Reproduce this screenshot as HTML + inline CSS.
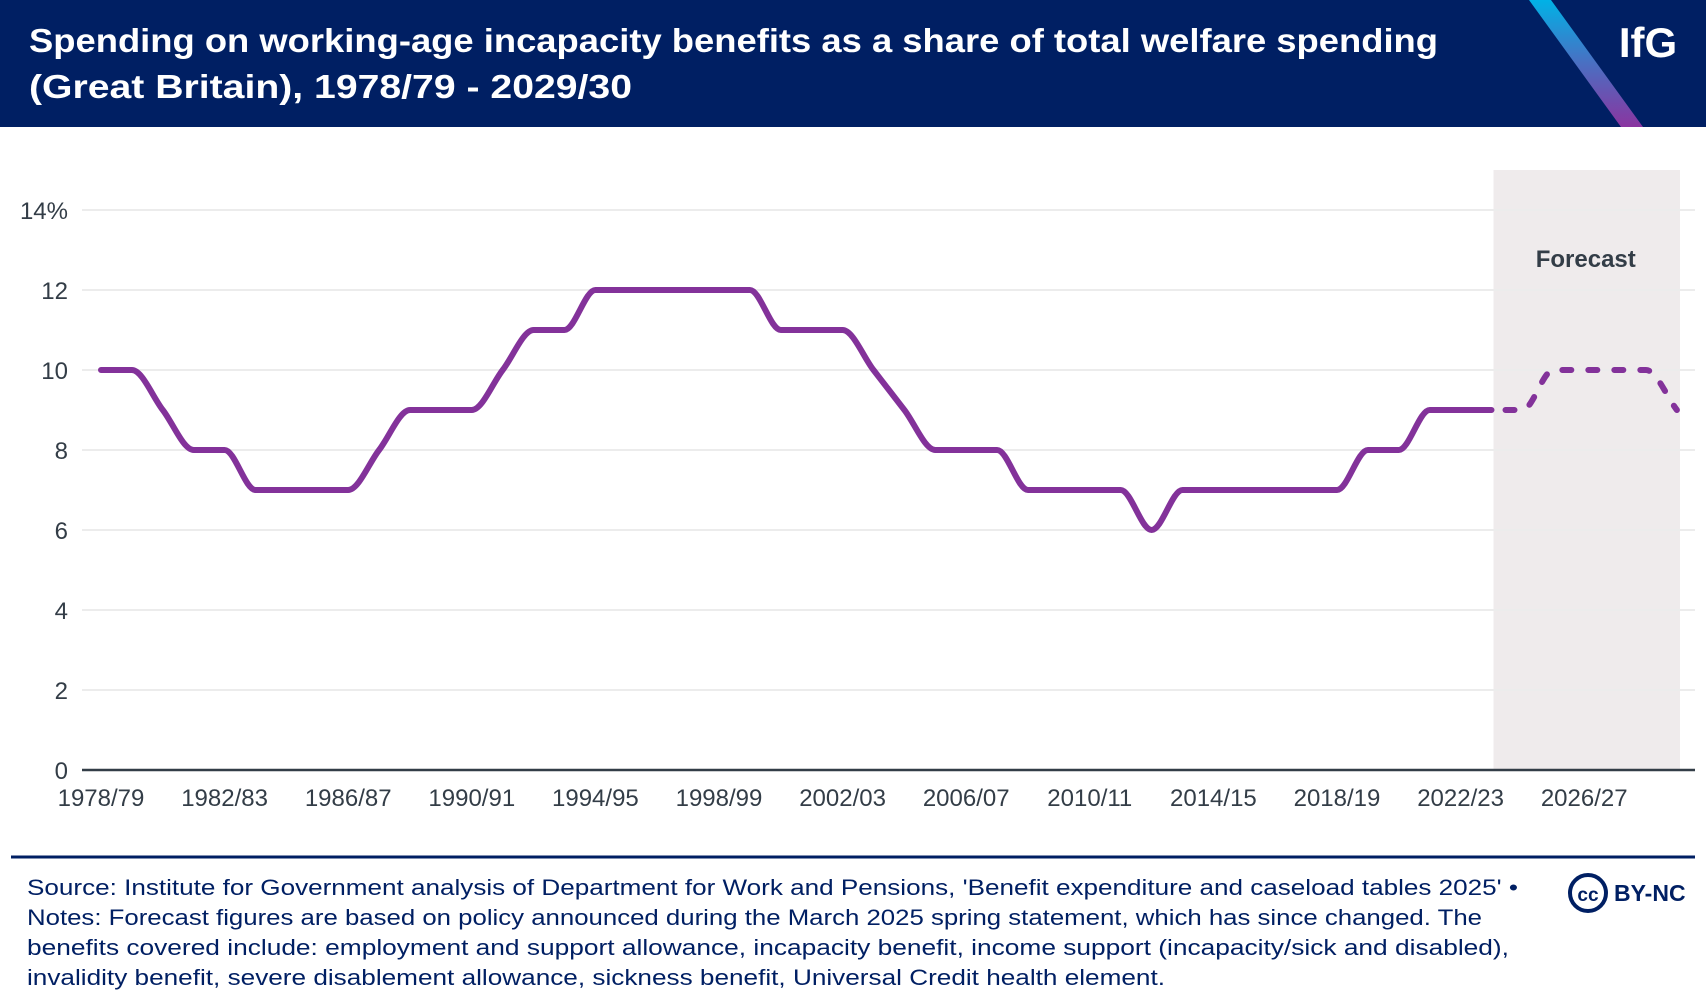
<!DOCTYPE html>
<html><head><meta charset="utf-8"><style>
html,body{margin:0;padding:0;background:#fff;}
svg{display:block;font-family:"Liberation Sans",sans-serif;}
</style></head><body>
<svg width="1706" height="1006" viewBox="0 0 1706 1006">
<defs><linearGradient id="lg" x1="0" y1="0" x2="0" y2="1"><stop offset="0" stop-color="#00b2e6"/><stop offset="0.5" stop-color="#4a6fc2"/><stop offset="1" stop-color="#8a35a0"/></linearGradient></defs>
<rect x="0" y="0" width="1706" height="127" fill="#001f63"/>
<polygon points="1529,0 1551,0 1643,127 1621,127" fill="url(#lg)"/>
<text x="1648" y="57" fill="#fff" font-size="42" font-weight="bold" text-anchor="middle">IfG</text>
<text x="29" y="52" fill="#fff" font-size="33" font-weight="bold" textLength="1409" lengthAdjust="spacingAndGlyphs">Spending on working-age incapacity benefits as a share of total welfare spending</text>
<text x="29" y="98" fill="#fff" font-size="33" font-weight="bold" textLength="603" lengthAdjust="spacingAndGlyphs">(Great Britain), 1978/79 - 2029/30</text>
<g id="plot"></g>
<line x1="11" y1="857" x2="1695" y2="857" stroke="#001f63" stroke-width="3"/>
<g fill="#001f63" font-size="22">
<text x="27" y="895" textLength="1491" lengthAdjust="spacingAndGlyphs">Source: Institute for Government analysis of Department for Work and Pensions, 'Benefit expenditure and caseload tables 2025' •</text>
<text x="27" y="925" textLength="1455" lengthAdjust="spacingAndGlyphs">Notes: Forecast figures are based on policy announced during the March 2025 spring statement, which has since changed. The</text>
<text x="27" y="955" textLength="1482" lengthAdjust="spacingAndGlyphs">benefits covered include: employment and support allowance, incapacity benefit, income support (incapacity/sick and disabled),</text>
<text x="27" y="985" textLength="1138" lengthAdjust="spacingAndGlyphs">invalidity benefit, severe disablement allowance, sickness benefit, Universal Credit health element.</text>
</g>
<g>
<circle cx="1588" cy="893" r="18" fill="none" stroke="#001f63" stroke-width="4"/>
<text x="1588" y="901" fill="#001f63" font-size="19" font-weight="bold" text-anchor="middle">cc</text>
<text x="1614" y="901" fill="#001f63" font-size="23" font-weight="bold">BY-NC</text>
</g>
</svg>
<script>
const years = [];
for (let y = 1978; y <= 2029; y++) years.push(y + "/" + String((y + 1) % 100).padStart(2, "0"));
const values = [10,10,9,8,8,7,7,7,7,8,9,9,9,10,11,11,12,12,12,12,12,12,11,11,11,10,9,8,8,8,7,7,7,7,6,7,7,7,7,7,7,8,8,9,9,9,9,10,10,10,10,9];
const forecastStart = 45;
const yTicks = [0,2,4,6,8,10,12,14];
const xTickLabels = ["1978/79","1982/83","1986/87","1990/91","1994/95","1998/99","2002/03","2006/07","2010/11","2014/15","2018/19","2022/23","2026/27"];

const NS = "http://www.w3.org/2000/svg";
const g = document.getElementById("plot");
const x0 = 101, dx = 30.9, yBase = 770, yScale = 40;
const X = i => x0 + i * dx;
const Y = v => yBase - v * yScale;
function el(tag, attrs, parent) { const e = document.createElementNS(NS, tag); for (const k in attrs) e.setAttribute(k, attrs[k]); (parent || g).appendChild(e); return e; }

const fb = el("rect", {x: X(forecastStart) + 2, y: 170, width: 1680 - X(forecastStart) - 2, height: yBase - 170, fill: "#efebec"});


const ft = el("text", {x: (X(forecastStart) + 1680) / 2, y: 267, "font-size": 24, "font-weight": "bold", fill: "#333d47", "text-anchor": "middle"});
ft.textContent = "Forecast";



yTicks.forEach(t => {
  if (t > 0) {
    const l = el("line", {x1: 82, x2: 1695, y1: Y(t), y2: Y(t), stroke: "#ececec", "stroke-width": 2});
    
    
  }
  const tx = el("text", {x: 68, y: Y(t) + 9, "font-size": 24, fill: "#333d47", "text-anchor": "end"});
  tx.textContent = t === 14 ? "14%" : String(t);
  
  
});
const ax = el("line", {x1: 82, x2: 1695, y1: yBase, y2: yBase, stroke: "#333d47", "stroke-width": 2.5});


xTickLabels.forEach(lbl => {
  const i = years.indexOf(lbl);
  const tx = el("text", {x: X(i), y: yBase + 36, "font-size": 24, fill: "#333d47", "text-anchor": "middle"});
  tx.textContent = lbl;
  
  
});

function monoPath(idx) {
  const xs = idx.map(X), ys = idx.map(i => Y(values[i])), n = xs.length;
  const d = [], m = [];
  for (let i = 0; i < n - 1; i++) d.push((ys[i + 1] - ys[i]) / (xs[i + 1] - xs[i]));
  for (let i = 0; i < n; i++) {
    if (i === 0) m.push(d[0]); else if (i === n - 1) m.push(d[n - 2]);
    else m.push(d[i - 1] * d[i] <= 0 ? 0 : 2 / (1 / d[i - 1] + 1 / d[i]));
  }
  let p = "M" + xs[0] + "," + ys[0];
  for (let i = 0; i < n - 1; i++) {
    const h = (xs[i + 1] - xs[i]) / 3;
    p += "C" + (xs[i] + h) + "," + (ys[i] + m[i] * h) + " " + (xs[i + 1] - h) + "," + (ys[i + 1] - m[i + 1] * h) + " " + xs[i + 1] + "," + ys[i + 1];
  }
  return p;
}
const all = values.map((_, i) => i);
const solid = el("path", {d: monoPath(all.slice(0, forecastStart + 1)), fill: "none", stroke: "#83329a", "stroke-width": 6, "stroke-linecap": "round", "stroke-linejoin": "round"});


const dash = el("path", {d: monoPath(all.slice(forecastStart)), fill: "none", stroke: "#83329a", "stroke-width": 6, "stroke-linecap": "round", "stroke-dasharray": "9 17", "stroke-dashoffset": "-14"});


</script>
</body></html>
